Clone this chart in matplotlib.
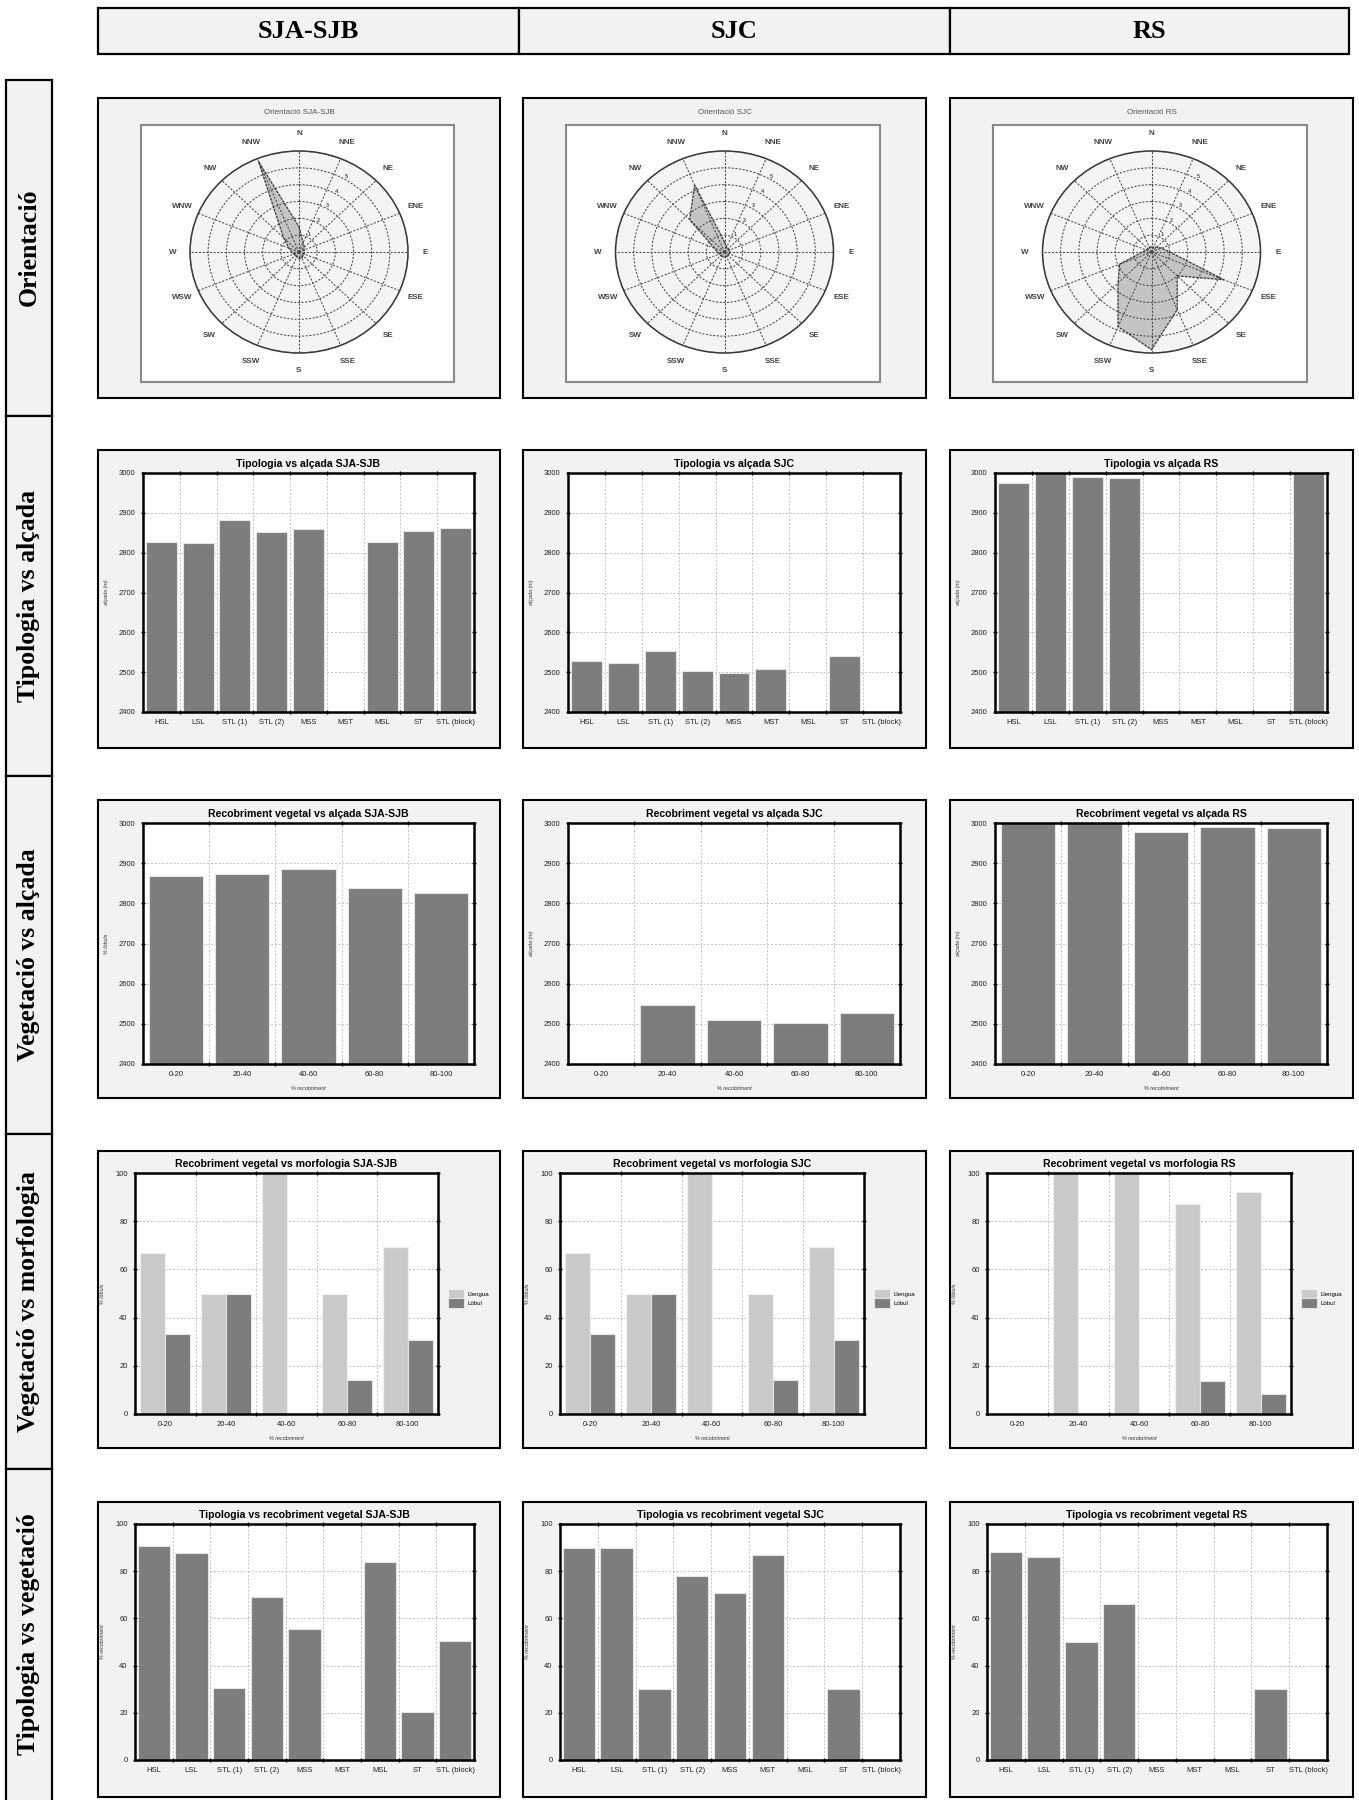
import numpy as np
import matplotlib
matplotlib.use("Agg")
import matplotlib.pyplot as plt
from matplotlib.patches import Rectangle

nan = np.nan

# ---------------- data ----------------
sites = ["SJA-SJB", "SJC", "RS"]
row_labels = ["Orientació", "Tipologia vs alçada", "Vegetació vs alçada",
              "Vegetació vs morfologia", "Tipologia vs vegetació"]
types = ["HSL", "LSL", "STL (1)", "STL (2)", "MSS", "MST", "MSL", "ST", "STL (block)"]
cover_bins = ["0-20", "20-40", "40-60", "60-80", "80-100"]
directions = ["N", "NNE", "NE", "ENE", "E", "ESE", "SE", "SSE",
              "S", "SSW", "SW", "WSW", "W", "WNW", "NW", "NNW"]
ring_labels = ["1", "2", "3", "4", "5", ""]

# orientation frequency per direction (ring units)
orient_sja_sjb = [1.5, 0.6, 0.4, 0.3, 0.3, 0.3, 0.3, 0.4, 0.4, 0.3, 0.3, 0.3, 0.4, 0.6, 1.2, 5.8]
orient_sjc = [0.6, 0.3, 0.3, 0.3, 0.3, 0.3, 0.3, 0.3, 0.3, 0.3, 0.3, 0.3, 0.4, 0.6, 2.7, 4.3]
orient_rs = [0.3, 0.3, 0.4, 0.6, 1.0, 4.3, 2.0, 3.7, 5.8, 4.8, 2.6, 1.9, 0.5, 0.3, 0.3, 0.3]

# mean altitude (m) per typology
alt_type_sja_sjb = [2828, 2825, 2882, 2853, 2860, nan, 2826, 2855, 2862]
alt_type_sjc = [2527, 2524, 2553, 2504, 2498, 2507, nan, 2541, nan]
alt_type_rs = [2976, 3000, 2990, 2987, nan, nan, nan, nan, 3000]

# mean altitude (m) per vegetation cover class
alt_cover_sja_sjb = [2868, 2874, 2886, 2839, 2825]
alt_cover_sjc = [nan, 2546, 2509, 2503, 2526]
alt_cover_rs = [3000, 3000, 2977, 2991, 2988]

# morphology share (%) per vegetation cover class
llengua_sja_sjb = [66.7, 50.0, 100.0, 50.0, 69.2]
lobul_sja_sjb = [33.3, 50.0, 0.0, 14.3, 30.8]
llengua_sjc = [66.7, 50.0, 100.0, 50.0, 69.2]
lobul_sjc = [33.3, 50.0, 0.0, 14.3, 30.8]
llengua_rs = [0.0, 100.0, 100.0, 87.0, 92.2]
lobul_rs = [0.0, 0.0, 0.0, 13.5, 8.4]

# vegetation cover (%) per typology
cover_type_sja_sjb = [90.5, 87.6, 30.3, 69.1, 55.4, 0, 83.8, 20.3, 50.5]
cover_type_sjc = [89.8, 89.8, 30.0, 78.0, 70.7, 86.8, 0, 30.0, 0]
cover_type_rs = [88.3, 85.9, 50.2, 66.3, 0, 0, 0, 30.0, 0]

# ---------------- layout helpers ----------------
W, H = 1359, 1800
fig = plt.figure(figsize=(W / 100, H / 100), dpi=100)
fig.patch.set_facecolor("white")

SANS = ["Liberation Sans", "DejaVu Sans"]
SERIF = ["Liberation Serif", "DejaVu Serif"]
DARK = "#7c7d7f"
LIGHT = "#c9c9cb"
PANEL = "#f2f2f2"


def rect_frac(x0, y0, x1, y1):
    return [x0 / W, 1 - y1 / H, (x1 - x0) / W, (y1 - y0) / H]


def box(x0, y0, x1, y1, fc=PANEL, lw=1.5, ec="black", z=-1):
    fig.add_artist(Rectangle((x0 / W, 1 - y1 / H), (x1 - x0) / W, (y1 - y0) / H,
                             transform=fig.transFigure, facecolor=fc,
                             edgecolor=ec, linewidth=lw, zorder=z))


col_x = [(98, 500), (523, 926), (950, 1353)]
row_y = [(98, 398), (450, 748), (800, 1098), (1151, 1448), (1502, 1797)]

# column headers
header_x = [97.6, 519, 950, 1349]
for i, site in enumerate(sites):
    box(header_x[i], 8, header_x[i + 1], 54, lw=1.6)
    fig.text((header_x[i] + header_x[i + 1]) / 2 / W, 1 - 31 / H, site,
             family=SERIF, weight="bold", size=19, ha="center", va="center")

# row labels
row_edges = [80, 415.5, 776, 1134, 1469, 1815]
for i, lab in enumerate(row_labels):
    box(6, row_edges[i], 52, row_edges[i + 1], lw=1.6)
    yc = (row_edges[i] + min(row_edges[i + 1], 1800)) / 2
    fig.text(29 / W, 1 - yc / H, lab, rotation=90, family=SERIF, weight="bold",
             size=18.5, ha="center", va="center")

# ---------------- orientation roses ----------------
theta_deg = np.arange(16) * 22.5
theta = np.deg2rad(theta_deg)
for j, (site, vals) in enumerate(zip(sites, [orient_sja_sjb, orient_sjc, orient_rs])):
    x0, x1 = col_x[j]
    y0, y1 = row_y[0]
    box(x0, y0, x1, y1)
    box(x0 + 43, y0 + 27, x1 - 46, y1 - 16, fc="white", ec="#8a8a8a", lw=1.5, z=-0.5)
    fig.text((x0 + x1) / 2 / W, 1 - (y0 + 14) / H, "Orientació " + site,
             family=SANS, size=5.8, color="#555555", ha="center", va="center")
    cx, cy = (x0 + x1) / 2, y0 + 154
    ax = fig.add_axes(rect_frac(cx - 109, cy - 101, cx + 109, cy + 101), projection="polar")
    ax.set_aspect("auto")
    ax.set_theta_zero_location("N")
    ax.set_theta_direction(-1)
    ax.set_facecolor("#f4f4f4")
    t = np.append(theta, theta[0])
    v = np.append(vals, vals[0])
    ax.fill(t, v, color="#c4c4c4", zorder=2)
    ax.plot(t, v, color="#3a3a3a", lw=0.9, ls=(0, (2, 1)), zorder=3)
    ax.set_ylim(0, 6)
    ax.set_yticks(np.arange(1, 7))
    ax.set_yticklabels(ring_labels)
    ax.set_rlabel_position(30)
    ax.set_thetagrids(theta_deg, directions)
    ax.set_axisbelow(False)
    ax.grid(color="#4a4a4a", ls=(0, (2, 1.5)), lw=0.75)
    ax.spines["polar"].set(color="#333333", ls=(0, (2, 1)), lw=1.1)
    ax.tick_params(axis="x", labelsize=5.8, pad=2, colors="#444444")
    ax.tick_params(axis="y", labelsize=4, colors="#555555")
    for lbl in ax.get_xticklabels() + ax.get_yticklabels():
        lbl.set_fontfamily(SANS)
        lbl.set_fontweight("bold")


# ---------------- bar charts ----------------
def panel_axes(j, r, left, right, top, bottom):
    x0, x1 = col_x[j]
    y0, y1 = row_y[r]
    box(x0, y0, x1, y1)
    return fig.add_axes(rect_frac(x0 + left, y0 + top, x1 - right, y1 - bottom))


def style(ax, cats, ylim, yticks, title, ylabel, xlabel=None):
    n = len(cats)
    ax.set_xlim(-0.5, n - 0.5)
    ax.set_ylim(*ylim)
    ax.set_yticks(yticks)
    ax.set_xticks(np.arange(n - 1) + 0.5)
    ax.set_xticklabels([])
    ax.set_xticks(np.arange(n), minor=True)
    ax.set_xticklabels(cats, minor=True)
    ax.tick_params(axis="x", which="minor", length=0, labelsize=5.5, pad=5, labelcolor="#222222")
    ax.tick_params(axis="both", which="major", direction="inout", length=3.5, width=1,
                   top=True, right=True, labelsize=5.5, labelcolor="#222222")
    ax.grid(which="major", color="#bdbdbd", ls=(0, (2.5, 2)), lw=0.6)
    ax.set_axisbelow(True)
    for s in ax.spines.values():
        s.set_linewidth(1.8)
    ax.set_title(title, fontsize=7.6, fontweight="bold", family=SANS, pad=4)
    ax.set_ylabel(ylabel, fontsize=3.9, style="italic", family=SANS, labelpad=7, color="#333333")
    if xlabel:
        ax.set_xlabel(xlabel, fontsize=3.9, style="italic", family=SANS, labelpad=6, color="#333333")
    for lbl in ax.get_xticklabels(minor=True) + ax.get_yticklabels():
        lbl.set_fontfamily(SANS)


alt_ticks = np.arange(2400, 3001, 100)
pct_ticks = np.arange(0, 101, 20)

# typology vs altitude
for j, (site, vals) in enumerate(zip(sites, [alt_type_sja_sjb, alt_type_sjc, alt_type_rs])):
    ax = panel_axes(j, 1, 45, 26, 23, 36)
    ax.bar(np.arange(len(types)), np.nan_to_num(vals), width=0.84, color=DARK,
           edgecolor="#e4e4e4", linewidth=0.8, zorder=2)
    style(ax, types, (2400, 3000), alt_ticks, "Tipologia vs alçada " + site, "alçada (m)")

# vegetation cover vs altitude
for j, (site, vals, ylab) in enumerate(zip(sites, [alt_cover_sja_sjb, alt_cover_sjc, alt_cover_rs],
                                          ["% lòbuls", "alçada (m)", "alçada (m)"])):
    ax = panel_axes(j, 2, 45, 26, 23, 34)
    ax.bar(np.arange(len(cover_bins)), np.nan_to_num(vals), width=0.82, color=DARK,
           edgecolor="#e4e4e4", linewidth=0.8, zorder=2)
    style(ax, cover_bins, (2400, 3000), alt_ticks, "Recobriment vegetal vs alçada " + site,
          ylab, "% recobriment")

# vegetation cover vs morphology
morph = [(llengua_sja_sjb, lobul_sja_sjb), (llengua_sjc, lobul_sjc), (llengua_rs, lobul_rs)]
for j, (site, (ll, lb)) in enumerate(zip(sites, morph)):
    ax = panel_axes(j, 3, 37, 62, 22, 34)
    x = np.arange(len(cover_bins))
    ax.bar(x - 0.205, ll, width=0.41, color=LIGHT, edgecolor="#eeeeee", linewidth=0.8,
           zorder=2, label="Llengua")
    ax.bar(x + 0.205, lb, width=0.41, color=DARK, edgecolor="#e4e4e4", linewidth=0.8,
           zorder=2, label="Lòbul")
    style(ax, cover_bins, (0, 100), pct_ticks, "Recobriment vegetal vs morfologia " + site,
          "% lòbuls", "% recobriment")
    ax.legend(loc="center left", bbox_to_anchor=(1.025, 0.48), frameon=False,
              prop={"family": SANS, "size": 4.4}, handlelength=2.6, handleheight=1.9,
              handletextpad=0.6, labelspacing=0.05, borderaxespad=0)

# typology vs vegetation cover
for j, (site, vals) in enumerate(zip(sites, [cover_type_sja_sjb, cover_type_sjc, cover_type_rs])):
    ax = panel_axes(j, 4, 37, 26, 22, 37)
    ax.bar(np.arange(len(types)), vals, width=0.86, color=DARK,
           edgecolor="#e4e4e4", linewidth=0.8, zorder=2)
    style(ax, types, (0, 100), pct_ticks, "Tipologia vs recobriment vegetal " + site,
          "% recobriment")

fig.savefig("out.png", dpi=100, facecolor="white")
